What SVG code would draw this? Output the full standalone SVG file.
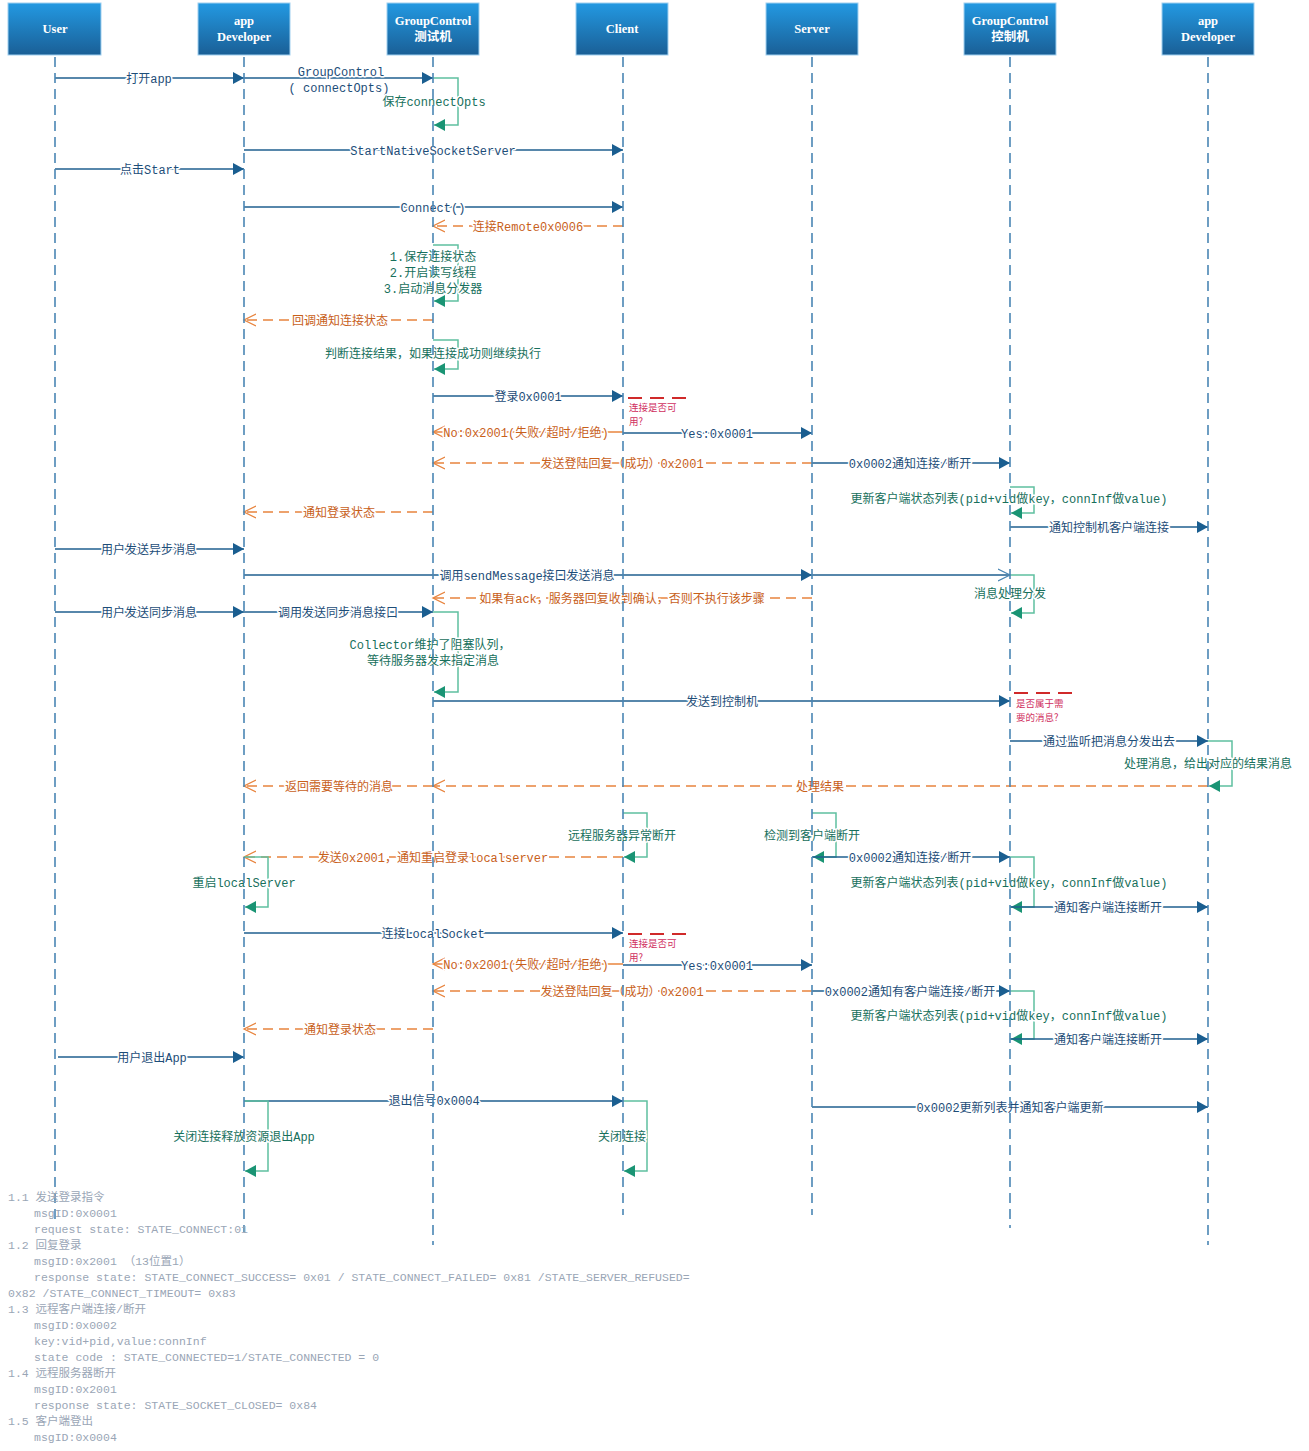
<svg xmlns="http://www.w3.org/2000/svg" width="1309" height="1451" viewBox="0 0 1309 1451">
<defs>
<linearGradient id="hg" x1="0" y1="0" x2="0" y2="1"><stop offset="0" stop-color="#2399e2"/><stop offset="1" stop-color="#1a5f96"/></linearGradient>
<marker id="ab" markerUnits="userSpaceOnUse" markerWidth="12" markerHeight="12" refX="11" refY="6" orient="auto"><path d="M0,0 L11,6 L0,12 z" fill="#1a5e90"/></marker>
<marker id="abo" markerUnits="userSpaceOnUse" markerWidth="14" markerHeight="14" refX="12" refY="7" orient="auto"><path d="M0,1 L12,7 L0,13" fill="none" stroke="#4a86b4" stroke-width="1.2"/></marker>
<marker id="ao" markerUnits="userSpaceOnUse" markerWidth="14" markerHeight="14" refX="12" refY="7" orient="auto"><path d="M0,1 L12,7 L0,13" fill="none" stroke="#e8843e" stroke-width="1.3"/></marker>
<marker id="ag" markerUnits="userSpaceOnUse" markerWidth="12" markerHeight="12" refX="11" refY="6" orient="auto"><path d="M0,0 L11,6 L0,12 z" fill="#1a9474"/></marker>
<style>
.hd rect{fill:url(#hg);stroke:#9fd0f0;stroke-width:1}
.hd text{fill:#fff;font-family:"Liberation Serif","Noto Sans CJK SC",serif;font-weight:bold;font-size:12.5px;text-anchor:middle}
.ll{stroke:#4a86b4;stroke-width:1.6;stroke-dasharray:10 6;fill:none}
.m{stroke:#1f5f8f;stroke-width:1.3;fill:none;marker-end:url(#ab)}
.mo{stroke:#1f5f8f;stroke-width:1.3;fill:none;marker-end:url(#abo)}
.r{stroke:#e8843e;stroke-width:1.5;stroke-dasharray:10 6;fill:none;marker-end:url(#ao)}
.rs{stroke:#e8843e;stroke-width:1.3;fill:none;marker-end:url(#ao)}
.s{stroke:#5fc0a0;stroke-width:1.5;fill:none;marker-end:url(#ag)}
.an{stroke:#d02a2a;stroke-width:2;stroke-dasharray:14 8;fill:none}
text{font-family:"Liberation Mono","Noto Sans CJK SC",monospace;font-size:12px}
.t,.to,.tg{text-anchor:middle;dominant-baseline:central;stroke:#fff;stroke-width:3;paint-order:stroke;stroke-linejoin:round;transform:translate(0px,1.5px)}
.t{fill:#1d4d78}
.to{fill:#c8601a}
.tg{fill:#17705c}
.ta{fill:#d03060;font-size:9.5px;font-family:"Noto Sans CJK SC",sans-serif}
.ft{fill:#9aa6b6;font-size:11.5px}
</style>
</defs>
<rect width="1309" height="1451" fill="#fff"/>

<g id="connectors">
<line class="m" x1="55" y1="78" x2="244" y2="78"/><text class="t" x="149" y="78">打开app</text>
<line class="m" x1="244" y1="78" x2="433" y2="78"/><text class="t" x="341" y="71">GroupControl</text><text class="t" x="339" y="87">( connectOpts)</text>
<path class="s" d="M433,78 H458 V125 H434"/><text class="tg" x="434" y="101">保存connectOpts</text>
<line class="m" x1="244" y1="150" x2="623" y2="150"/><text class="t" x="433" y="150">StartNativeSocketServer</text>
<line class="m" x1="55" y1="169" x2="244" y2="169"/><text class="t" x="150" y="169">点击Start</text>
<line class="m" x1="244" y1="207" x2="623" y2="207"/><text class="t" x="433" y="207">Connect()</text>
<line class="r" x1="623" y1="226" x2="433" y2="226"/><text class="to" x="528" y="226">连接Remote0x0006</text>
<path class="s" d="M433,245 H458 V301 H434"/>
<text class="tg" x="433" y="256">1.保存连接状态</text><text class="tg" x="433" y="272">2.开启读写线程</text><text class="tg" x="433" y="288">3.启动消息分发器</text>
<line class="r" x1="433" y1="320" x2="244" y2="320"/><text class="to" x="340" y="320">回调通知连接状态</text>
<path class="s" d="M433,340 H458 V369 H434"/><text class="tg" x="433" y="353">判断连接结果，如果连接成功则继续执行</text>
<line class="m" x1="433" y1="396" x2="623" y2="396"/><text class="t" x="528" y="396">登录0x0001</text>
<line class="an" x1="628" y1="398" x2="692" y2="398"/>
<text class="ta" x="629" y="411">连接是否可</text><text class="ta" x="629" y="425">用?</text>
<line class="rs" x1="623" y1="432" x2="433" y2="432"/><text class="to" x="526" y="432">No:0x2001(失败/超时/拒绝)</text>
<line class="m" x1="623" y1="433" x2="812" y2="433"/><text class="t" x="717" y="433">Yes:0x0001</text>
<line class="r" x1="812" y1="463" x2="433" y2="463"/><text class="to" x="622" y="463">发送登陆回复（成功）0x2001</text>
<line class="m" x1="812" y1="463" x2="1010" y2="463"/><text class="t" x="910" y="463">0x0002通知连接/断开</text>
<path class="s" d="M1010,487 H1034 V513 H1011"/><text class="tg" x="1009" y="498">更新客户端状态列表(pid+vid做key，connInf做value)</text>
<line class="m" x1="1010" y1="527" x2="1208" y2="527"/><text class="t" x="1109" y="527">通知控制机客户端连接</text>
<line class="r" x1="433" y1="512" x2="244" y2="512"/><text class="to" x="339" y="512">通知登录状态</text>
<line class="m" x1="55" y1="549" x2="244" y2="549"/><text class="t" x="149" y="549">用户发送异步消息</text>
<line class="m" x1="244" y1="575" x2="812" y2="575"/><text class="t" x="527" y="575">调用sendMessage接口发送消息</text>
<line class="mo" x1="812" y1="575" x2="1010" y2="575"/>
<path class="s" d="M1010,575 H1034 V613 H1011"/><text class="tg" x="1010" y="593">消息处理分发</text>
<line class="r" x1="812" y1="598" x2="433" y2="598"/><text class="to" x="622" y="598">如果有ack，服务器回复收到确认，否则不执行该步骤</text>
<line class="m" x1="55" y1="612" x2="244" y2="612"/><text class="t" x="149" y="612">用户发送同步消息</text>
<line class="m" x1="244" y1="612" x2="433" y2="612"/><text class="t" x="338" y="612">调用发送同步消息接口</text>
<path class="s" d="M433,612 H458 V692 H434"/>
<text class="tg" x="430" y="644">Collector维护了阻塞队列，</text><text class="tg" x="433" y="660">等待服务器发来指定消息</text>
<line class="m" x1="433" y1="701" x2="1010" y2="701"/><text class="t" x="722" y="701">发送到控制机</text>
<line class="an" x1="1014" y1="693" x2="1078" y2="693"/>
<text class="ta" x="1016" y="707">是否属于需</text><text class="ta" x="1016" y="721">要的消息?</text>
<line class="m" x1="1010" y1="741" x2="1208" y2="741"/><text class="t" x="1109" y="741">通过监听把消息分发出去</text>
<path class="s" d="M1208,741 H1232 V786 H1209"/><text class="tg" x="1208" y="763">处理消息，给出对应的结果消息</text>
<line class="r" x1="1208" y1="786" x2="433" y2="786"/><text class="to" x="820" y="786">处理结果</text>
<line class="r" x1="433" y1="786" x2="244" y2="786"/><text class="to" x="339" y="786">返回需要等待的消息</text>
<path class="s" d="M623,813 H647 V857 H624"/><text class="tg" x="622" y="835">远程服务器异常断开</text>
<path class="s" d="M812,813 H836 V857 H813"/><text class="tg" x="812" y="835">检测到客户端断开</text>
<line class="r" x1="623" y1="857" x2="244" y2="857"/><text class="to" x="433" y="857">发送0x2001，通知重启登录localserver</text>
<line class="m" x1="812" y1="857" x2="1010" y2="857"/><text class="t" x="910" y="857">0x0002通知连接/断开</text>
<path class="s" d="M244,857 H268 V907 H245"/><text class="tg" x="244" y="882">重启localServer</text>
<path class="s" d="M1010,857 H1034 V907 H1011"/><text class="tg" x="1009" y="882">更新客户端状态列表(pid+vid做key，connInf做value)</text>
<line class="m" x1="1010" y1="907" x2="1208" y2="907"/><text class="t" x="1108" y="907">通知客户端连接断开</text>
<line class="m" x1="244" y1="933" x2="623" y2="933"/><text class="t" x="433" y="933">连接LocalSocket</text>
<line class="an" x1="628" y1="934" x2="692" y2="934"/>
<text class="ta" x="629" y="947">连接是否可</text><text class="ta" x="629" y="961">用?</text>
<line class="rs" x1="623" y1="964" x2="433" y2="964"/><text class="to" x="526" y="964">No:0x2001(失败/超时/拒绝)</text>
<line class="m" x1="623" y1="965" x2="812" y2="965"/><text class="t" x="717" y="965">Yes:0x0001</text>
<line class="r" x1="812" y1="991" x2="433" y2="991"/><text class="to" x="622" y="991">发送登陆回复（成功）0x2001</text>
<line class="m" x1="812" y1="991" x2="1010" y2="991"/><text class="t" x="910" y="991">0x0002通知有客户端连接/断开</text>
<path class="s" d="M1010,991 H1034 V1039 H1011"/><text class="tg" x="1009" y="1015">更新客户端状态列表(pid+vid做key，connInf做value)</text>
<line class="m" x1="1010" y1="1039" x2="1208" y2="1039"/><text class="t" x="1108" y="1039">通知客户端连接断开</text>
<line class="r" x1="433" y1="1029" x2="244" y2="1029"/><text class="to" x="340" y="1029">通知登录状态</text>
<line class="m" x1="58" y1="1057" x2="244" y2="1057"/><text class="t" x="152" y="1057">用户退出App</text>
<line class="m" x1="244" y1="1101" x2="623" y2="1101"/><text class="t" x="434" y="1100">退出信号0x0004</text>
<path class="s" d="M244,1101 H268 V1171 H245"/><text class="tg" x="244" y="1136">关闭连接释放资源退出App</text>
<path class="s" d="M623,1101 H647 V1171 H624"/><text class="tg" x="622" y="1136">关闭连接</text>
<line class="m" x1="812" y1="1107" x2="1208" y2="1107"/><text class="t" x="1010" y="1107">0x0002更新列表并通知客户端更新</text>
</g>

<g id="node-user" class="hd"><rect x="8" y="3" width="93" height="52"/><text x="55" y="33">User</text><line class="ll" x1="55" y1="57" x2="55" y2="1225"/></g>
<g id="node-appdev" class="hd"><rect x="198" y="3" width="92" height="52"/><text x="244" y="25">app</text><text x="244" y="41">Developer</text><line class="ll" x1="244" y1="57" x2="244" y2="1232"/></g>
<g id="node-gc-test" class="hd"><rect x="387" y="3" width="92" height="52"/><text x="433" y="25">GroupControl</text><text x="433" y="41">测试机</text><line class="ll" x1="433" y1="57" x2="433" y2="1245"/></g>
<g id="node-client" class="hd"><rect x="576" y="3" width="92" height="52"/><text x="622" y="33">Client</text><line class="ll" x1="623" y1="57" x2="623" y2="1215"/></g>
<g id="node-server" class="hd"><rect x="766" y="3" width="92" height="52"/><text x="812" y="33">Server</text><line class="ll" x1="812" y1="57" x2="812" y2="1215"/></g>
<g id="node-gc-ctrl" class="hd"><rect x="964" y="3" width="92" height="52"/><text x="1010" y="25">GroupControl</text><text x="1010" y="41">控制机</text><line class="ll" x1="1010" y1="57" x2="1010" y2="1228"/></g>
<g id="node-appdev2" class="hd"><rect x="1162" y="3" width="92" height="52"/><text x="1208" y="25">app</text><text x="1208" y="41">Developer</text><line class="ll" x1="1208" y1="57" x2="1208" y2="1245"/></g>

<g id="notes">
<text class="ft" x="8" y="1201">1.1 发送登录指令</text>
<text class="ft" x="34" y="1217">msgID:0x0001</text>
<text class="ft" x="34" y="1233">request state: STATE_CONNECT:01</text>
<text class="ft" x="8" y="1249">1.2 回复登录</text>
<text class="ft" x="34" y="1265">msgID:0x2001    （13位置1）</text>
<text class="ft" x="34" y="1281">response state: STATE_CONNECT_SUCCESS= 0x01 / STATE_CONNECT_FAILED= 0x81 /STATE_SERVER_REFUSED=</text>
<text class="ft" x="8" y="1297">0x82 /STATE_CONNECT_TIMEOUT= 0x83</text>
<text class="ft" x="8" y="1313">1.3 远程客户端连接/断开</text>
<text class="ft" x="34" y="1329">msgID:0x0002</text>
<text class="ft" x="34" y="1345">key:vid+pid,value:connInf</text>
<text class="ft" x="34" y="1361">state code : STATE_CONNECTED=1/STATE_CONNECTED = 0</text>
<text class="ft" x="8" y="1377">1.4 远程服务器断开</text>
<text class="ft" x="34" y="1393">msgID:0x2001</text>
<text class="ft" x="34" y="1409">response state: STATE_SOCKET_CLOSED= 0x84</text>
<text class="ft" x="8" y="1425">1.5 客户端登出</text>
<text class="ft" x="34" y="1441">msgID:0x0004</text>
</g>
</svg>
